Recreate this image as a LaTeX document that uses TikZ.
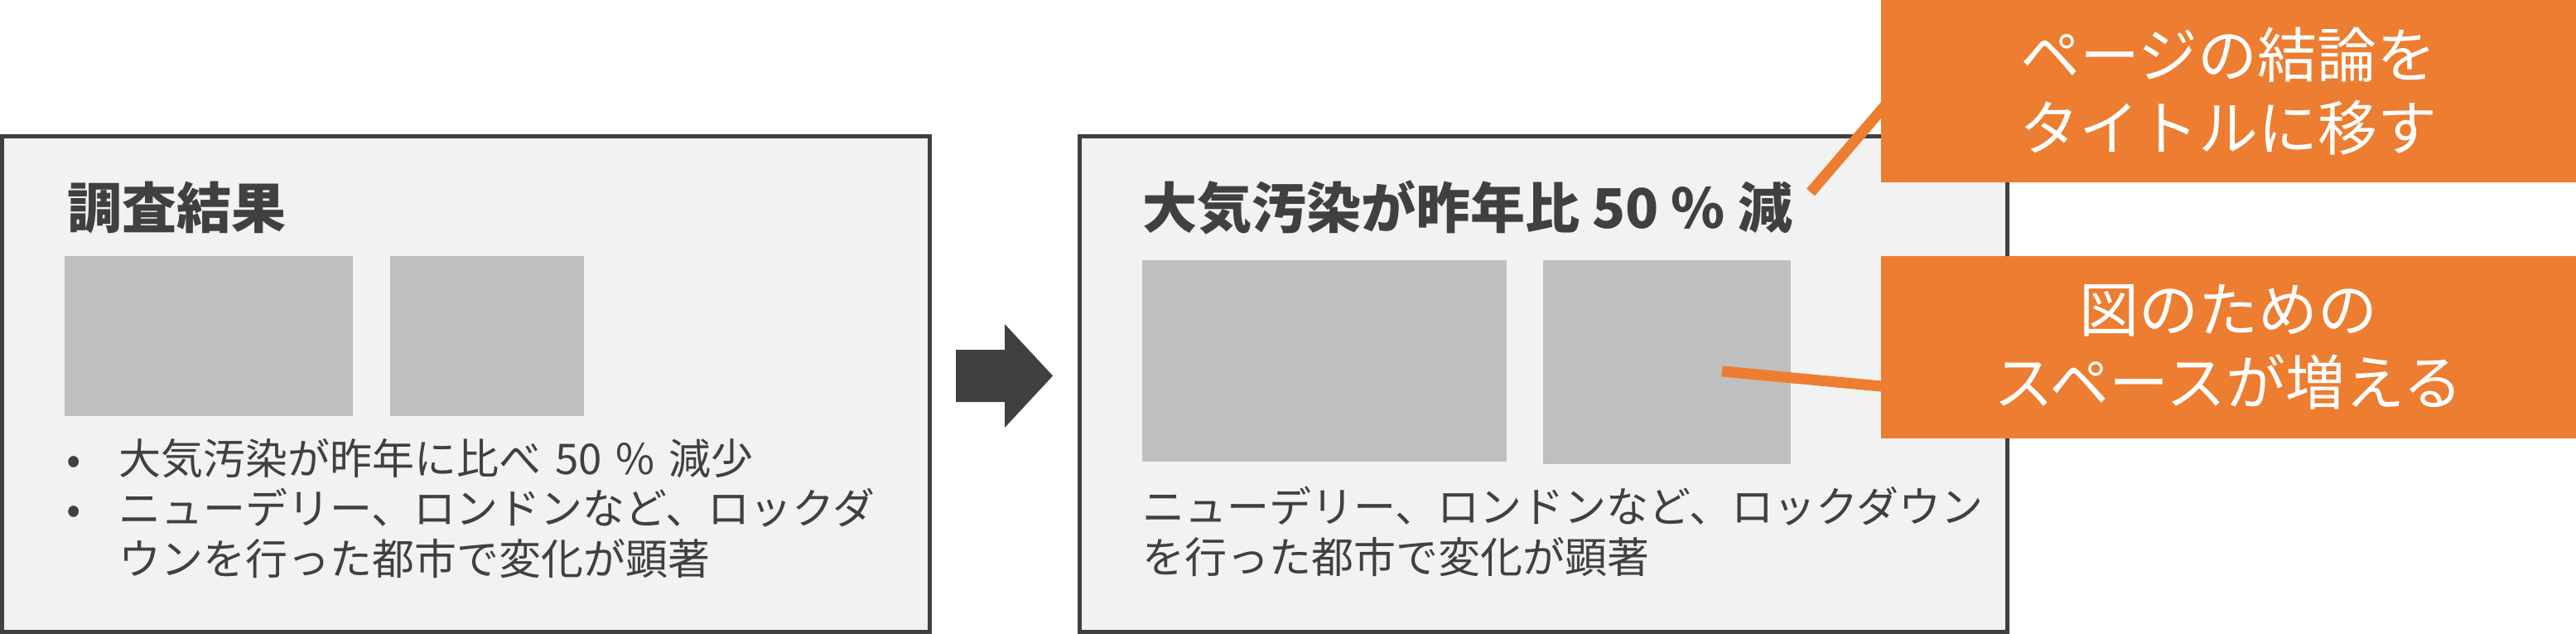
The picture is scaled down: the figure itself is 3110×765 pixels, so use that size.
\documentclass[tikz,border=0pt]{standalone}
\usepackage{fontspec}
\newfontfamily\jp{Noto Sans CJK JP}
\definecolor{dark}{HTML}{404040}
\definecolor{panel}{HTML}{F2F2F2}
\definecolor{ph}{HTML}{BFBFBF}
\definecolor{accent}{HTML}{ED7D31}
\newcommand{\gap}{\hspace{0.33em}}
\tikzset{
  panelbox/.style={draw=dark, fill=panel, line width=5pt, inner sep=0pt, outer sep=0pt, anchor=north west},
  phbox/.style={fill=ph, inner sep=0pt, outer sep=0pt, anchor=north west},
  titletext/.style={text=dark, inner sep=0pt, anchor=base west, font=\jp\bfseries\fontsize{66}{80}\selectfont},
  bodytext/.style={text=dark, inner sep=0pt, anchor=base west, font=\jp\fontsize{51}{61}\selectfont},
  callout/.style={fill=accent, text=white, inner sep=0pt, outer sep=0pt, anchor=north west, align=center,
    font=\jp\fontsize{72}{88}\selectfont},
  conn/.style={draw=accent, line width=13pt},
  bigarrow/.style={fill=dark}
}
\begin{document}
\begin{tikzpicture}[x=1pt,y=-1pt]
\useasboundingbox (0,0) rectangle (3110,765);
% panels
\node[panelbox, minimum width=1120pt, minimum height=598pt] (left) at (2.5,164.5) {};
\node[panelbox, minimum width=1120pt, minimum height=598pt] (right) at (1303.5,164.5) {};
% left panel content
\node[titletext] (ltitle) at (81,275) {調査結果};
\node[phbox, minimum width=348pt, minimum height=193pt] (lp1) at (78,309) {};
\node[phbox, minimum width=234pt, minimum height=193pt] (lp2) at (471,309) {};
\node[bodytext] (lb1) at (80,572) {•};
\node[bodytext] (lt1) at (143,572) {大気汚染が昨年に比べ\gap 50\gap\%\gap 減少};
\node[bodytext] (lb2) at (80,632) {•};
\node[bodytext] (lt2) at (143,632) {ニューデリー、ロンドンなど、ロックダ};
\node[bodytext] (lt3) at (143,693) {ウンを行った都市で変化が顕著};
% arrow
\fill[bigarrow] (1154,422) -- (1213,422) -- (1213,391) -- (1271,453.5) -- (1213,516) -- (1213,485) -- (1154,485) -- cycle;
% right panel content
\node[titletext] (rtitle) at (1379,275) {大気汚染が昨年比 50 \% 減};
\node[phbox, minimum width=440pt, minimum height=243pt] (rp1) at (1379,314) {};
\node[phbox, minimum width=299pt, minimum height=246pt] (rp2) at (1863,314) {};
\node[bodytext] (rt1) at (1379,630) {ニューデリー、ロンドンなど、ロックダウン};
\node[bodytext] (rt2) at (1379,691) {を行った都市で変化が顕著};
% connectors
\coordinate (k1a) at (2186,232);
\coordinate (k1b) at (2292,108.6);
\coordinate (k2a) at (2079,448);
\coordinate (k2b) at (2292,468);
\draw[conn] (k1a) -- (k1b);
\draw[conn] (k2a) -- (k2b);
% callouts
\node[callout, minimum width=839pt, minimum height=220pt] (c1) at (2271,0) {ページの結論を\\タイトルに移す};
\node[callout, minimum width=839pt, minimum height=220pt] (c2) at (2271,309) {図のための\\スペースが増える};
\end{tikzpicture}
\end{document}
